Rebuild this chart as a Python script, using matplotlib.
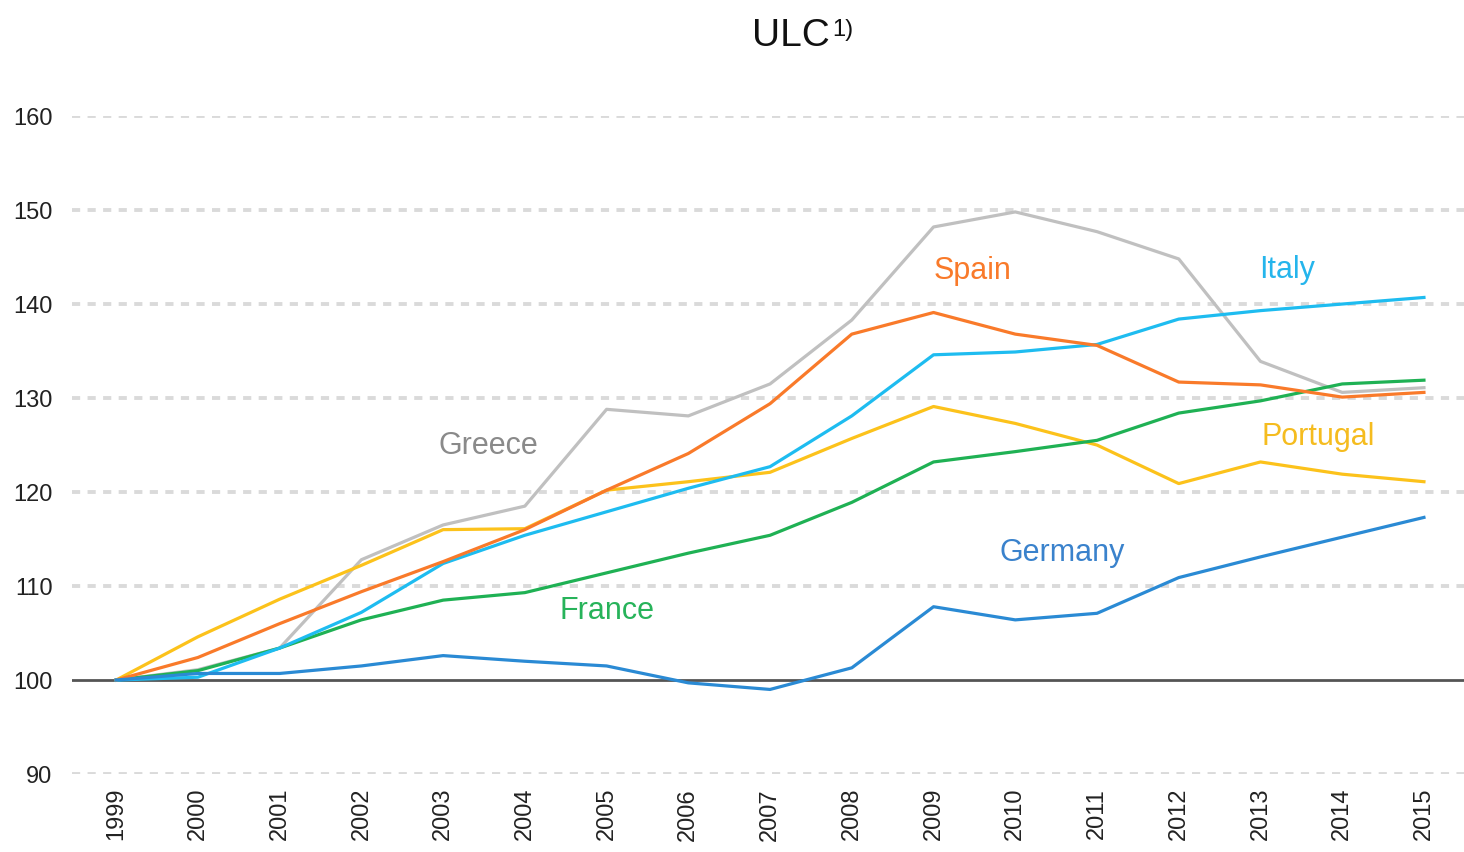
import matplotlib
matplotlib.use("Agg")
import matplotlib.pyplot as plt
from matplotlib import font_manager as fm

names = {f.name for f in fm.fontManager.ttflist}
FONT = "Liberation Sans Narrow" if "Liberation Sans Narrow" in names else "Liberation Sans"
plt.rcParams['font.family'] = [FONT, 'DejaVu Sans']

years = list(range(1999, 2016))
germany  = [100, 100.7, 100.7, 101.5, 102.6, 102.0, 101.5, 99.7, 99.0, 101.3, 107.8, 106.4, 107.1, 110.9, 113.1, 115.2, 117.3]
france   = [100, 101.0, 103.4, 106.4, 108.5, 109.3, 111.4, 113.5, 115.4, 118.9, 123.2, 124.3, 125.5, 128.4, 129.7, 131.5, 131.9]
italy    = [100, 100.3, 103.4, 107.2, 112.4, 115.4, 117.9, 120.4, 122.7, 128.1, 134.6, 134.9, 135.7, 138.4, 139.3, 140.0, 140.7]
spain    = [100, 102.4, 106.0, 109.4, 112.6, 116.0, 120.2, 124.1, 129.4, 136.8, 139.1, 136.8, 135.6, 131.7, 131.4, 130.1, 130.6]
greece   = [100, 101.1, 103.4, 112.8, 116.5, 118.5, 128.8, 128.1, 131.5, 138.3, 148.2, 149.8, 147.7, 144.8, 133.9, 130.6, 131.1]
portugal = [100, 104.6, 108.6, 112.2, 116.0, 116.1, 120.2, 121.1, 122.1, 125.7, 129.1, 127.3, 125.0, 120.9, 123.2, 121.9, 121.1]
yticks = [90, 100, 110, 120, 130, 140, 150, 160]

series = [
    ("Greece", greece, "#c0c0c0", "#8a8a8a", 2003.55, 124.9),
    ("Portugal", portugal, "#fcc21b", "#f5bc1f", 2013.7, 125.9),
    ("France", france, "#1fb154", "#27b35a", 2005.0, 107.3),
    ("Italy", italy, "#1ebcf0", "#25b5ec", 2013.32, 143.6),
    ("Spain", spain, "#f97a2a", "#f97a2a", 2009.48, 143.5),
    ("Germany", germany, "#2a8ad4", "#3a82cc", 2010.58, 113.5),
]

fig = plt.figure(figsize=(14.64, 8.52), dpi=100)
ax = fig.add_axes([0.0492, 0.0915, 0.9508, 0.7723])

for v in yticks:
    if v == 100:
        continue
    ax.axhline(v, color="#dadada", lw=2.8, dashes=(2.1, 1.9), zorder=1)
ax.axhline(100, color="#555555", lw=2, zorder=2)

for name, vals, col, tcol, lx, ly in series:
    ax.plot(years, vals, color=col, lw=2.3, zorder=3)
    ax.text(lx, ly, name, color=tcol, fontsize=22, ha="center", va="center", zorder=4)

ax.set_xlim(1998.46, 2015.49)
ax.set_ylim(90, 160)
ax.set_yticks(yticks)
ax.set_yticklabels([str(v) for v in yticks], fontsize=17, color="#222222")
ax.set_xticks(years)
ax.set_xticklabels([str(y) for y in years], rotation=90, fontsize=17, color="#222222")
ax.tick_params(axis="both", length=0)
ax.tick_params(axis="y", pad=14)
ax.tick_params(axis="x", pad=10)
for s in ax.spines.values():
    s.set_visible(False)

t = fig.text(752 / 1464, 1 - 36 / 852, "ULC", fontsize=28, ha="left", va="center", color="#111111")
fig.canvas.draw()
bb = t.get_window_extent()
fig.text((bb.x1 + 2) / 1464, 1 - 30 / 852, "1)", fontsize=17, ha="left", va="center", color="#111111")

fig.savefig("out.png", dpi=100, facecolor="white")
